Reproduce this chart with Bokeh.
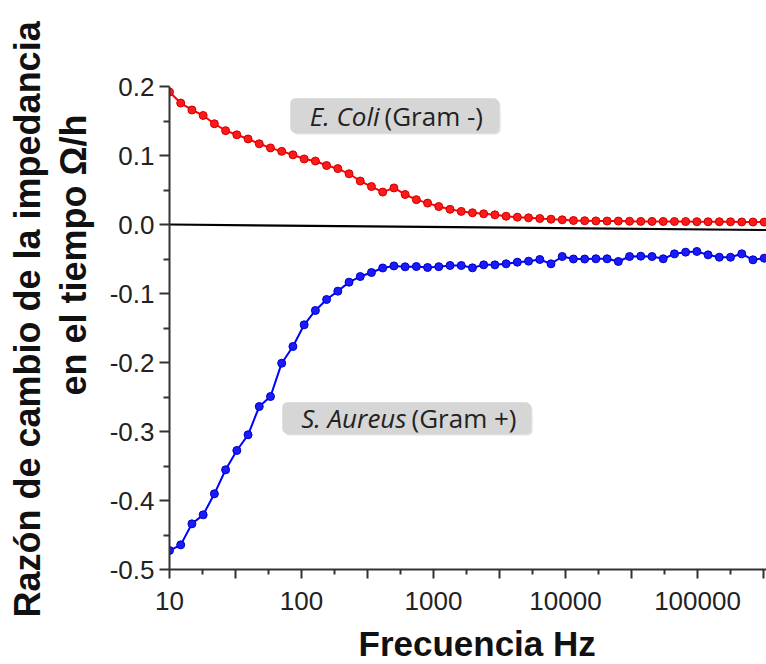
import math
from bokeh.plotting import figure
from bokeh.models import Range1d, FixedTicker, Label, BoxAnnotation, Title
from bokeh.embed import file_html
from bokeh.resources import INLINE

# ---------------- data ----------------
freq = [10.0, 12.16, 14.79, 17.99, 21.88, 26.61, 32.36, 39.36, 47.86, 58.21,
        70.79, 86.10, 104.7, 127.4, 154.9, 188.4, 229.1, 278.6, 338.8, 412.1,
        501.2, 609.5, 741.3, 901.6, 1096, 1334, 1622, 1972, 2399, 2917,
        3548, 4315, 5248, 6383, 7762, 9441, 11482, 13964, 16982, 20654,
        25119, 30549, 37154, 45186, 54954, 66834, 81283, 98855, 120226, 146218,
        177828, 216272, 263027, 319890]

ecoli = [0.192, 0.176, 0.166, 0.158, 0.146, 0.136, 0.130, 0.124, 0.117, 0.111,
         0.106, 0.101, 0.095, 0.092, 0.0855, 0.081, 0.0735, 0.063, 0.055, 0.047,
         0.053, 0.0435, 0.036, 0.031, 0.026, 0.022, 0.019, 0.017, 0.0155, 0.014,
         0.012, 0.0106, 0.0097, 0.0087, 0.0077, 0.0068, 0.0058, 0.0055, 0.0052, 0.0050,
         0.0050, 0.0047, 0.0045, 0.0045, 0.0044, 0.0043, 0.0042, 0.0041, 0.0040, 0.0040,
         0.0039, 0.0037, 0.0036, 0.0035]

saureus = [-0.4725, -0.4643, -0.4338, -0.4208, -0.3903, -0.3555, -0.3275, -0.3048, -0.2638, -0.2493,
           -0.2010, -0.1768, -0.1454, -0.1246, -0.1087, -0.0966, -0.0836, -0.0754, -0.0696, -0.0630,
           -0.0600, -0.0613, -0.0609, -0.0623, -0.0611, -0.0594, -0.0594, -0.0628, -0.0585, -0.0585,
           -0.0570, -0.0546, -0.0531, -0.0507, -0.0570, -0.0464, -0.0500, -0.0500, -0.0497, -0.0497,
           -0.0536, -0.0464, -0.0459, -0.0464, -0.0497, -0.0425, -0.0401, -0.0391, -0.0440, -0.0474,
           -0.0474, -0.0425, -0.0512, -0.0488]

zero_line_x = [10, 333000]
zero_line_y = [0.0, -0.008]

x_ticks = [10, 31.6228, 100, 316.228, 1000, 3162.28, 10000, 31622.8, 100000, 316228]
x_tick_labels = ["10", "", "100", "", "1000", "", "10000", "", "100000", ""]
x_minor = [17.7828, 56.2341, 177.828, 562.341, 1778.28, 5623.41, 17782.8, 56234.1, 177828]

y_ticks = [-0.5, -0.4, -0.3, -0.2, -0.1, 0.0, 0.1, 0.2]
y_tick_labels = ["-0.5", "-0.4", "-0.3", "-0.2", "-0.1", "0.0", "0.1", "0.2"]
y_minor = [-0.45, -0.35, -0.25, -0.15, -0.05, 0.05, 0.15]

y_title_1 = "Razón de cambio de la impedancia"
y_title_2 = "en el tiempo Ω/h"
x_title = "Frecuencia Hz"

# ---------------- figure ----------------
p = figure(width=766, height=664, x_axis_type="log",
           x_range=Range1d(10, 333000), y_range=Range1d(-0.5, 0.2),
           output_backend="svg", toolbar_location=None,
           min_border_left=169, min_border_right=0,
           min_border_top=86, min_border_bottom=95)
p.outline_line_color = None
p.background_fill_color = "white"
p.border_fill_color = "white"
p.xgrid.grid_line_color = None
p.ygrid.grid_line_color = None

axcol = "#333333"
for ax in (p.xaxis[0], p.yaxis[0]):
    ax.axis_line_color = axcol
    ax.axis_line_width = 2
    ax.major_tick_line_color = axcol
    ax.major_tick_line_width = 2
    ax.minor_tick_line_color = axcol
    ax.minor_tick_line_width = 2
    ax.major_tick_in = 0
    ax.minor_tick_in = 0
    ax.major_label_text_font = "Liberation Sans"
    ax.major_label_text_font_size = "26px"
    ax.major_label_text_color = "#222222"

p.xaxis[0].ticker = FixedTicker(ticks=x_ticks, minor_ticks=x_minor)
p.xaxis[0].major_label_overrides = dict(zip(x_ticks, x_tick_labels))
p.xaxis[0].major_tick_out = 9
p.xaxis[0].minor_tick_out = 5
p.xaxis[0].major_label_standoff = 13

p.yaxis[0].ticker = FixedTicker(ticks=y_ticks, minor_ticks=y_minor)
p.yaxis[0].major_label_overrides = dict(zip(y_ticks, y_tick_labels))
p.yaxis[0].major_tick_out = 10
p.yaxis[0].minor_tick_out = 6
p.yaxis[0].major_label_standoff = 5

# zero line
p.line(zero_line_x, zero_line_y, line_color="black", line_width=2.2)

# series
p.line(freq, ecoli, line_color="#ff0000", line_width=2)
p.scatter(freq, ecoli, size=8, fill_color="#ff1a1a", line_color="#cc0000", line_width=1)
p.line(freq, saureus, line_color="#0000ff", line_width=2)
p.scatter(freq, saureus, size=8, fill_color="#1a1aff", line_color="#0000c0", line_width=1)

# helpers to convert layout pixels into data positions (layout only)
def px_x(px):
    return 10 ** (1 + (px - 169) / 132.0)

def px_y(py):
    return 0.2 - (py - 86) / 690.0

# annotation boxes
def tag(left, right, top, bottom, split, base, ital, normal):
    p.add_layout(BoxAnnotation(left=px_x(left + 2), right=px_x(right + 2),
                               top=px_y(top + 2), bottom=px_y(bottom + 2),
                               fill_color="#000000", fill_alpha=0.12,
                               line_color=None, border_radius=5))
    p.add_layout(BoxAnnotation(left=px_x(left), right=px_x(right),
                               top=px_y(top), bottom=px_y(bottom),
                               fill_color="#d6d6d6", fill_alpha=1.0,
                               line_color="#c4c4c4", line_width=1, border_radius=5))
    p.add_layout(Label(x=px_x(split), y=px_y(base), text=ital,
                       text_align="right", text_baseline="alphabetic",
                       text_font="Open Sans", text_font_style="italic",
                       text_font_size="26px", text_color="#222222"))
    p.add_layout(Label(x=px_x(split + 5), y=px_y(base), text=normal,
                       text_align="left", text_baseline="alphabetic",
                       text_font="Open Sans", text_font_size="26px",
                       text_color="#222222"))

tag(290, 498, 98, 132, 379, 115, "E. Coli", "(Gram -)")
tag(282, 530, 402, 433, 406, 417, "S. Aureus", "(Gram +)")

# titles (in side panels so they are not clipped by the frame)
title_style = dict(text_font="Liberation Sans", text_font_style="bold",
                   text_font_size="36px", text_color="#111111", align="left")
p.add_layout(Title(text=y_title_2, standoff=25, offset=174, **title_style), "left")
p.add_layout(Title(text=y_title_1, standoff=-19, offset=-48, **title_style), "left")

# blank spacer (white, 1px) between the axis and the x title
p.add_layout(Title(text=" ", text_font_size="1px", text_color="white", standoff=6), "below")
p.add_layout(Title(text=x_title, standoff=0, offset=189, align="left",
                   vertical_align="bottom",
                   text_font="Liberation Sans", text_font_style="bold",
                   text_font_size="35px", text_color="#111111"), "below")

open("out.html", "w").write(file_html(p, INLINE))
